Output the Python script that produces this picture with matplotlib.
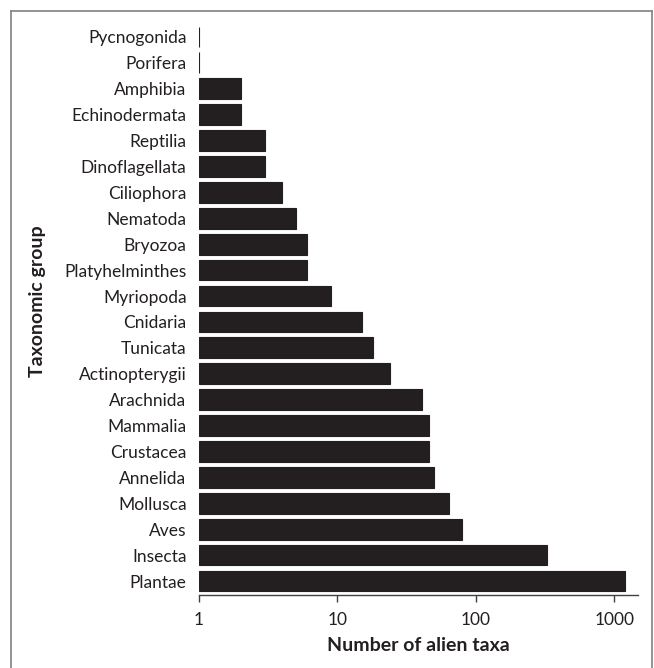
import matplotlib
matplotlib.use("Agg")
import matplotlib.pyplot as plt
from matplotlib.lines import Line2D

categories = ["Pycnogonida", "Porifera", "Amphibia", "Echinodermata", "Reptilia",
              "Dinoflagellata", "Ciliophora", "Nematoda", "Bryozoa", "Platyhelminthes",
              "Myriopoda", "Cnidaria", "Tunicata", "Actinopterygii", "Arachnida",
              "Mammalia", "Crustacea", "Annelida", "Mollusca", "Aves", "Insecta", "Plantae"]
values = [1, 1, 2, 2, 3, 3, 4, 5, 6, 6, 9, 15, 18, 24, 41, 46, 46, 50, 64, 79, 324, 1190]
xticks = [1, 10, 100, 1000]
xticklabels = ["1", "10", "100", "1000"]

plt.rcParams['font.family'] = ['Lato', 'DejaVu Sans']
dark = '#231f20'

fig = plt.figure(figsize=(6.54, 6.68), dpi=100)
ax = fig.add_axes([199/654, 1 - 595/668, (638 - 199)/654, (595 - 24)/668])

cats_r = categories[::-1]
vals_r = values[::-1]
ypos = list(range(len(cats_r)))
ax.barh(ypos, [v - 1 for v in vals_r], left=1, height=0.8, color=dark,
        edgecolor=dark, linewidth=0.8)

ax.set_xscale('log')
ax.set_xlim(1, 1479)
ax.set_ylim(-0.54, 21.5)
ax.set_yticks(ypos)
ax.set_yticklabels(cats_r, fontsize=12.5, color=dark)
ax.set_xticks(xticks)
ax.set_xticklabels(xticklabels, fontsize=12.5, color=dark)
ax.xaxis.set_minor_locator(matplotlib.ticker.NullLocator())
ax.tick_params(axis='y', length=0, pad=9)
ax.tick_params(axis='x', direction='out', length=5, width=1, color='#404040', pad=7)

for s in ['top', 'right', 'left']:
    ax.spines[s].set_visible(False)
ax.spines['bottom'].set_color('#404040')
ax.spines['bottom'].set_linewidth(1)

ax.set_xlabel("Number of alien taxa", fontsize=14, fontweight='bold', color=dark, labelpad=7)
fig.text(38/654, 1 - 301/668, "Taxonomic group", rotation=90, fontsize=14,
         fontweight='bold', color=dark, ha='center', va='center')

# figure frame
W, H = 654, 668
kw = dict(color='#8a8a8a', linewidth=1.3, transform=fig.transFigure)
fig.add_artist(Line2D([11/W, 11/W], [0, 1 - 11/H], **kw))
fig.add_artist(Line2D([11/W, 652/W], [1 - 11/H, 1 - 11/H], **kw))
fig.add_artist(Line2D([652/W, 652/W], [0, 1 - 11/H], **kw))

fig.savefig("out.png", dpi=100)
